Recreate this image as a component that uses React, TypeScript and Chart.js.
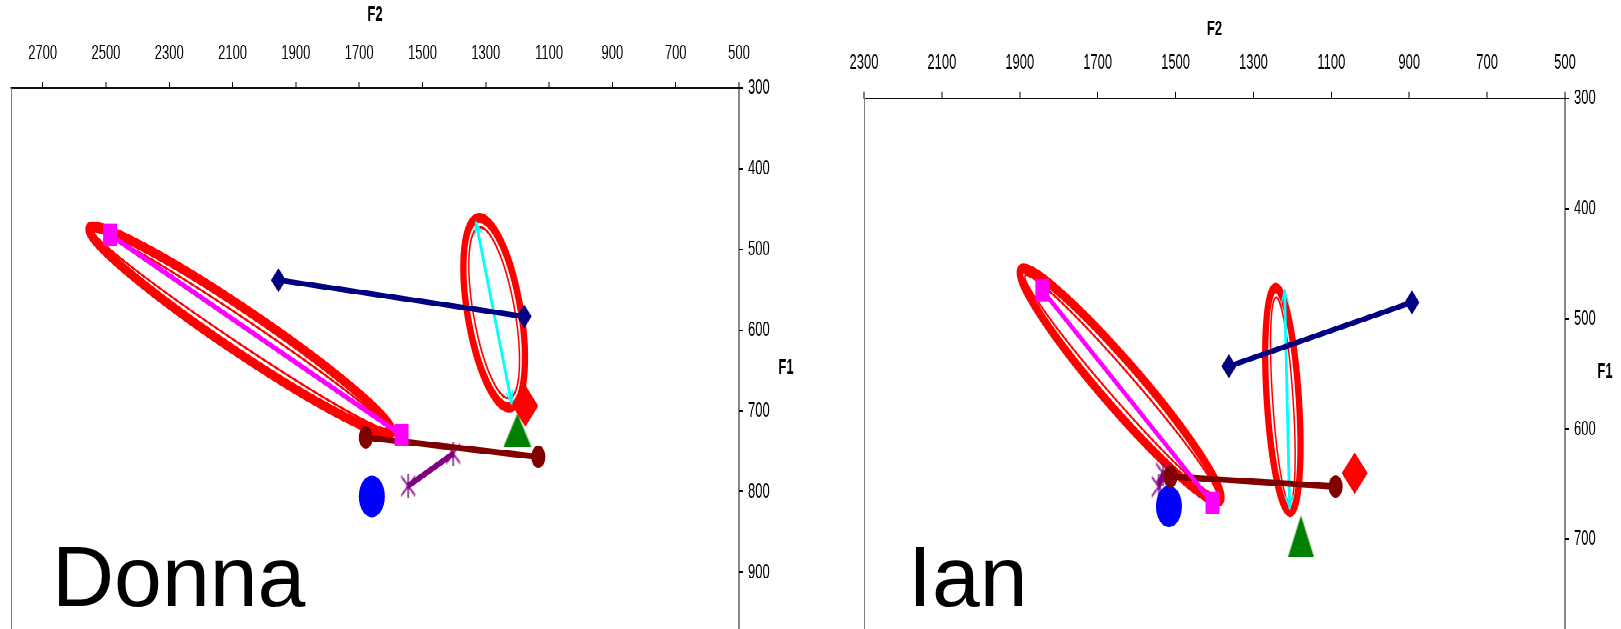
import React, { useEffect, useRef } from 'react';
import { Chart, registerables } from 'chart.js';

Chart.register(...registerables);

// ---------------- Donna (left panel) ----------------
const donnaF2Ticks = [2700, 2500, 2300, 2100, 1900, 1700, 1500, 1300, 1100, 900, 700, 500];
const donnaF1Ticks = [300, 400, 500, 600, 700, 800, 900];
const donnaSquares = [[2487, 482], [1566, 730]];
const donnaNavy = [[1955, 538], [1179, 583]];
const donnaCyan = [[1331, 466], [1218, 691]];
const donnaRedDiamond = [[1175, 694]];
const donnaTriangle = [[1200, 724]];
const donnaMaroon = [[1679, 733], [1134, 757]];
const donnaPurple = [[1403, 753], [1545, 793]];
const donnaBlue = [[1660, 806]];
const donnaEllipseA = [[2555, 474], [1595, 726]];
const donnaEllipseB = [[1331, 462], [1216, 695]];

// ---------------- Ian (right panel) ----------------
const ianF2Ticks = [2300, 2100, 1900, 1700, 1500, 1300, 1100, 900, 700, 500];
const ianF1Ticks = [300, 400, 500, 600, 700];
const ianSquares = [[1842, 474], [1405, 667]];
const ianNavy = [[1363, 543], [893, 485]];
const ianCyan = [[1220, 474], [1207, 672]];
const ianRedDiamond = [[1040, 640]];
const ianTriangle = [[1178, 697]];
const ianMaroon = [[1513, 643], [1089, 652]];
const ianPurple = [[1532, 640], [1543, 652]];
const ianBlue = [[1517, 670]];
const ianEllipseA = [[1899, 456], [1383, 664]];
const ianEllipseB = [[1244, 472], [1205, 675]];

// ---------------- layout / style ----------------
const STRETCH = 1.6;
const PAGE_W = 1621;
const PAGE_H = 629;
const INNER_H = 393;
const FONT = "'Liberation Sans', Arial, Helvetica, sans-serif";

const COLORS = {
  magenta: '#FF00FF',
  navy: '#000080',
  cyan: '#00FFFF',
  red: '#FF0000',
  green: '#008000',
  maroon: '#800000',
  purple: '#800080',
  blue: '#0000FF',
};

const donnaPanel = {
  name: 'Donna',
  left: 0,
  width: 810,
  padLeft: 11,
  padTop: 0,
  xAxisHeight: 55,
  yAxisWidth: 71,
  xMin: 500,
  xMax: 2800,
  yMin: 300,
  yMax: 970,
  xTicks: donnaF2Ticks,
  yTicks: donnaF1Ticks,
  titlePadTop: 1.5,
  f1dx: 47,
  f1dy: 6,
  triangleSize: [28, 21],
  series: {
    squares: donnaSquares,
    navy: donnaNavy,
    cyan: donnaCyan,
    red: donnaRedDiamond,
    green: donnaTriangle,
    maroon: donnaMaroon,
    purple: donnaPurple,
    blue: donnaBlue,
  },
  ellipses: [
    { tips: donnaEllipseA, minor: 14 },
    { tips: donnaEllipseB, minor: 26 },
  ],
};

const ianPanel = {
  name: 'Ian',
  left: 810,
  width: 811,
  padLeft: 54,
  padTop: 6.4,
  xAxisHeight: 55,
  yAxisWidth: 56,
  xMin: 500,
  xMax: 2300,
  yMin: 300,
  yMax: 781,
  xTicks: ianF2Ticks,
  yTicks: ianF1Ticks,
  titlePadTop: 4,
  f1dx: 40,
  f1dy: 5.4,
  triangleSize: [26, 26],
  series: {
    squares: ianSquares,
    navy: ianNavy,
    cyan: ianCyan,
    red: ianRedDiamond,
    green: ianTriangle,
    maroon: ianMaroon,
    purple: ianPurple,
    blue: ianBlue,
  },
  ellipses: [
    { tips: ianEllipseA, minor: 16 },
    { tips: ianEllipseB, minor: 16 },
  ],
};

function toXY(arr: number[][]) {
  return arr.map(([x, y]) => ({ x, y }));
}

function makeCanvas(w: number, h: number, draw: (ctx: CanvasRenderingContext2D) => void) {
  const c = document.createElement('canvas');
  c.width = w;
  c.height = h;
  const ctx = c.getContext('2d');
  if (ctx) draw(ctx);
  return c;
}

function makeTriangle(w: number, h: number, color: string) {
  return makeCanvas(w, h, (ctx) => {
    ctx.fillStyle = color;
    ctx.beginPath();
    ctx.moveTo(w / 2, 0);
    ctx.lineTo(w, h);
    ctx.lineTo(0, h);
    ctx.closePath();
    ctx.fill();
  });
}

function makeStar(w: number, h: number, color: string) {
  return makeCanvas(w, h, (ctx) => {
    ctx.strokeStyle = color;
    ctx.lineWidth = 1.4;
    ctx.beginPath();
    ctx.moveTo(w / 2, 0);
    ctx.lineTo(w / 2, h);
    ctx.moveTo(1, 1.5);
    ctx.lineTo(w - 1, h - 1.5);
    ctx.moveTo(w - 1, 1.5);
    ctx.lineTo(1, h - 1.5);
    ctx.stroke();
  });
}

function makeEllipsePlugin(items: { tips: number[][]; minor: number }[]) {
  return {
    id: 'vowelEllipses',
    beforeDatasetsDraw(chart: any) {
      const xs = chart.scales.x;
      const ys = chart.scales.y;
      const ctx = chart.ctx;
      const area = chart.chartArea;
      ctx.save();
      ctx.beginPath();
      ctx.rect(area.left, area.top, area.right - area.left, area.bottom - area.top);
      ctx.clip();
      ctx.strokeStyle = COLORS.red;
      for (const it of items) {
        const x1 = xs.getPixelForValue(it.tips[0][0]);
        const y1 = ys.getPixelForValue(it.tips[0][1]);
        const x2 = xs.getPixelForValue(it.tips[1][0]);
        const y2 = ys.getPixelForValue(it.tips[1][1]);
        const cx = (x1 + x2) / 2;
        const cy = (y1 + y2) / 2;
        const a = Math.hypot(x2 - x1, y2 - y1) / 2;
        const ang = Math.atan2(y2 - y1, x2 - x1);
        ctx.lineWidth = 6.3;
        ctx.beginPath();
        ctx.ellipse(cx, cy, a, it.minor, ang, 0, Math.PI * 2);
        ctx.stroke();
        ctx.lineWidth = 1.5;
        ctx.beginPath();
        ctx.ellipse(cx, cy, Math.max(a - 6, 1), Math.max(it.minor - 5.8, 1), ang, 0, Math.PI * 2);
        ctx.stroke();
      }
      ctx.restore();
    },
  };
}

function makeFramePlugin(p: any) {
  return {
    id: 'vowelFrame',
    afterDraw(chart: any) {
      const { left, right, top, bottom } = chart.chartArea;
      const ctx = chart.ctx;
      ctx.save();
      ctx.strokeStyle = '#7f7f7f';
      ctx.lineWidth = 1;
      ctx.beginPath();
      ctx.moveTo(left + 0.5, top);
      ctx.lineTo(left + 0.5, bottom);
      ctx.stroke();
      ctx.fillStyle = '#000';
      ctx.font = `bold 13px ${FONT}`;
      ctx.textAlign = 'center';
      ctx.textBaseline = 'middle';
      ctx.fillText('F1', right + p.f1dx, (top + bottom) / 2 + p.f1dy);
      ctx.restore();
    },
  };
}

function makeArrowPlugin(datasetIndex: number) {
  return {
    id: 'vowelArrows',
    afterDatasetDraw(chart: any, args: any) {
      if (args.index !== datasetIndex) return;
      const pts = args.meta.data;
      if (!pts || pts.length < 2) return;
      const ctx = chart.ctx;
      ctx.save();
      ctx.strokeStyle = COLORS.cyan;
      ctx.lineWidth = 1.2;
      const head = (tip: any, from: any) => {
        const ang = Math.atan2(tip.y - from.y, tip.x - from.x);
        const len = 9;
        const spread = 0.42;
        ctx.beginPath();
        ctx.moveTo(tip.x - len * Math.cos(ang - spread), tip.y - len * Math.sin(ang - spread));
        ctx.lineTo(tip.x, tip.y);
        ctx.lineTo(tip.x - len * Math.cos(ang + spread), tip.y - len * Math.sin(ang + spread));
        ctx.stroke();
      };
      head(pts[0], pts[1]);
      head(pts[pts.length - 1], pts[pts.length - 2]);
      ctx.restore();
    },
  };
}

function buildConfig(p: any) {
  const tri = makeTriangle(p.triangleSize[0], p.triangleSize[1], COLORS.green);
  const star = makeStar(16, 15, COLORS.purple);
  const s = p.series;
  const datasets: any[] = [
    {
      label: 'red',
      data: toXY(s.red),
      showLine: false,
      pointStyle: 'rectRot',
      pointRadius: 13,
      pointBackgroundColor: COLORS.red,
      pointBorderColor: COLORS.red,
      pointBorderWidth: 0,
    },
    {
      label: 'green',
      data: toXY(s.green),
      showLine: false,
      pointStyle: tri,
      pointRadius: 10,
    },
    {
      label: 'magenta',
      data: toXY(s.squares),
      showLine: true,
      borderColor: COLORS.magenta,
      borderWidth: 3.4,
      pointStyle: 'rect',
      pointRadius: 9.9,
      pointBackgroundColor: COLORS.magenta,
      pointBorderColor: COLORS.magenta,
      pointBorderWidth: 0,
    },
    {
      label: 'navy',
      data: toXY(s.navy),
      showLine: true,
      borderColor: COLORS.navy,
      borderWidth: 3.4,
      pointStyle: 'rectRot',
      pointRadius: 7.5,
      pointBackgroundColor: COLORS.navy,
      pointBorderColor: COLORS.navy,
      pointBorderWidth: 0,
    },
    {
      label: 'maroon',
      data: toXY(s.maroon),
      showLine: true,
      borderColor: COLORS.maroon,
      borderWidth: 3.8,
      pointStyle: 'circle',
      pointRadius: 7,
      pointBackgroundColor: COLORS.maroon,
      pointBorderColor: COLORS.maroon,
      pointBorderWidth: 0,
    },
    {
      label: 'blue',
      data: toXY(s.blue),
      showLine: false,
      pointStyle: 'circle',
      pointRadius: 13,
      pointBackgroundColor: COLORS.blue,
      pointBorderColor: COLORS.blue,
      pointBorderWidth: 0,
    },
    {
      label: 'purple',
      data: toXY(s.purple),
      showLine: true,
      borderColor: COLORS.purple,
      borderWidth: 4,
      pointStyle: star,
      pointRadius: 8,
    },
    {
      label: 'cyan',
      data: toXY(s.cyan),
      showLine: true,
      borderColor: COLORS.cyan,
      borderWidth: 2.8,
      pointRadius: 0,
    },
  ];
  const cyanIndex = datasets.findIndex((d) => d.label === 'cyan');

  const tickFont = { family: FONT, size: 13 };
  const axisCommon = {
    type: 'linear',
    reverse: true,
    grid: {
      display: true,
      drawOnChartArea: false,
      drawTicks: true,
      tickLength: 4,
      color: '#000',
      lineWidth: 1,
    },
    border: { display: true, color: '#111', width: 1 },
  };

  return {
    type: 'scatter',
    data: { datasets },
    options: {
      animation: false,
      responsive: false,
      maintainAspectRatio: false,
      devicePixelRatio: 2,
      events: [],
      layout: { autoPadding: false, padding: { left: p.padLeft, top: p.padTop, right: 0, bottom: 0 } },
      plugins: {
        legend: { display: false },
        tooltip: { enabled: false },
      },
      scales: {
        x: {
          ...axisCommon,
          position: 'top',
          min: p.xMin,
          max: p.xMax,
          afterBuildTicks: (sc: any) => {
            sc.ticks = p.xTicks.map((v: number) => ({ value: v }));
          },
          afterFit: (sc: any) => {
            sc.height = p.xAxisHeight;
            sc.paddingLeft = 0;
            sc.paddingRight = 0;
            sc.paddingTop = 0;
            sc.paddingBottom = 0;
          },
          ticks: {
            autoSkip: false,
            maxRotation: 0,
            minRotation: 0,
            padding: 10,
            color: '#000',
            font: tickFont,
            callback: (v: any) => String(v),
          },
          title: {
            display: true,
            text: 'F2',
            color: '#000',
            font: { family: FONT, size: 13, weight: 'bold' },
            padding: { top: p.titlePadTop, bottom: 0 },
          },
        },
        y: {
          ...axisCommon,
          position: 'right',
          min: p.yMin,
          max: p.yMax,
          afterBuildTicks: (sc: any) => {
            sc.ticks = p.yTicks.map((v: number) => ({ value: v }));
          },
          afterFit: (sc: any) => {
            sc.width = p.yAxisWidth;
            sc.paddingLeft = 0;
            sc.paddingRight = 0;
            sc.paddingTop = 0;
            sc.paddingBottom = 0;
          },
          ticks: {
            autoSkip: false,
            padding: 5,
            color: '#000',
            font: tickFont,
            callback: (v: any) => String(v),
          },
        },
      },
    },
    plugins: [makeEllipsePlugin(p.ellipses), makeFramePlugin(p), makeArrowPlugin(cyanIndex)],
  };
}

function VowelChart({ panel }: { panel: any }) {
  const ref = useRef<HTMLCanvasElement | null>(null);
  useEffect(() => {
    const canvas = ref.current;
    if (!canvas) return;
    const chart = new Chart(canvas, buildConfig(panel) as any);
    return () => {
      chart.destroy();
    };
  }, [panel]);
  return (
    <canvas
      ref={ref}
      width={panel.width}
      height={INNER_H}
      style={{
        position: 'absolute',
        left: panel.left,
        top: 0,
        width: panel.width,
        height: INNER_H,
        display: 'block',
      }}
    />
  );
}

const nameStyle: React.CSSProperties = {
  position: 'absolute',
  top: 533,
  fontFamily: FONT,
  fontSize: 86,
  lineHeight: 1,
  color: '#000',
  whiteSpace: 'nowrap',
};

export default function App() {
  return (
    <div
      style={{
        position: 'fixed',
        left: 0,
        top: 0,
        width: PAGE_W,
        height: PAGE_H,
        overflow: 'hidden',
        background: '#fff',
      }}
    >
      <div
        style={{
          position: 'absolute',
          left: 0,
          top: 0,
          width: PAGE_W,
          height: INNER_H,
          transform: `scaleY(${STRETCH})`,
          transformOrigin: '0 0',
        }}
      >
        <VowelChart panel={donnaPanel} />
        <VowelChart panel={ianPanel} />
      </div>
      <div style={{ ...nameStyle, left: 52 }}>{donnaPanel.name}</div>
      <div style={{ ...nameStyle, left: 908 }}>{ianPanel.name}</div>
    </div>
  );
}
